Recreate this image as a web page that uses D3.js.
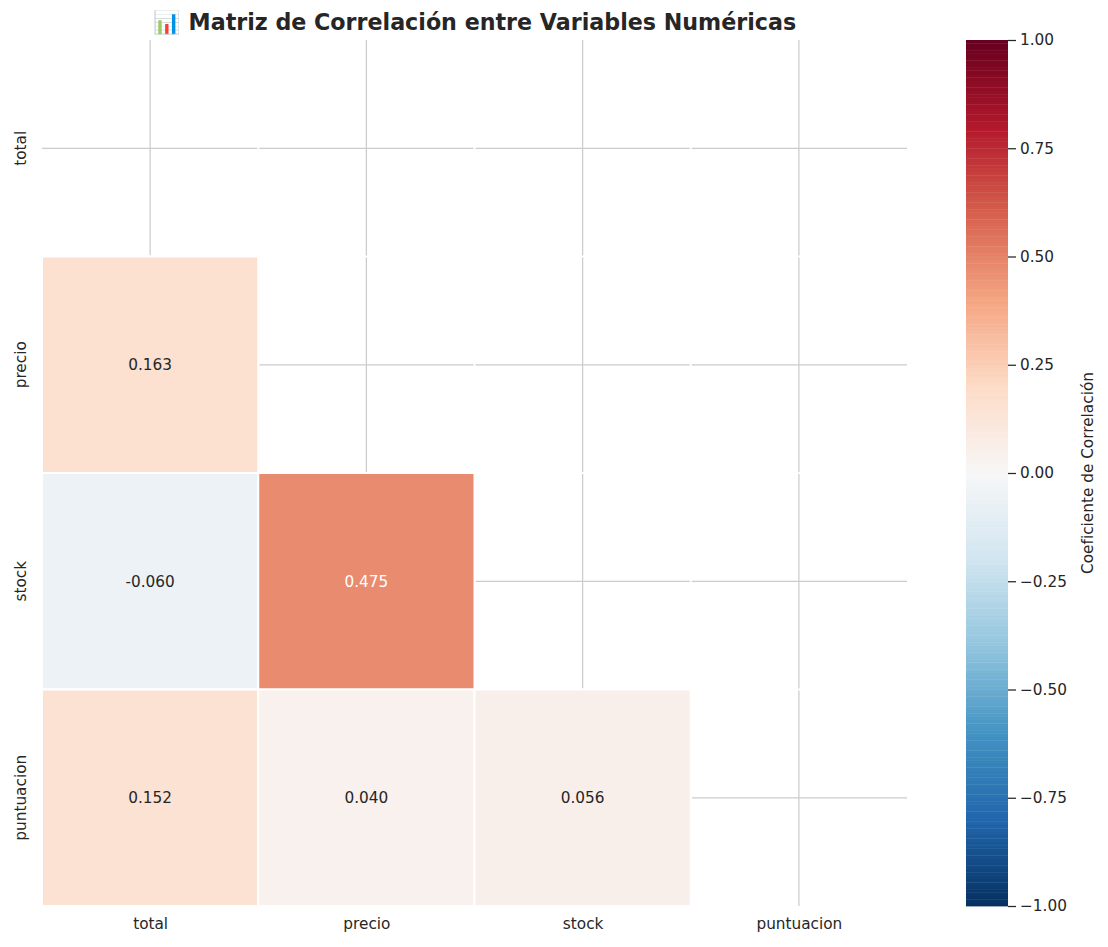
<!DOCTYPE html>
<html lang="es">
<head>
<meta charset="utf-8">
<title>Matriz de Correlación</title>
<script src="https://cdn.jsdelivr.net/npm/d3@7"></script>
<style>
  html, body { margin: 0; padding: 0; background: #fff; }
  svg { display: block; }
  text { font-family: "DejaVu Sans", sans-serif; fill: #262626; }
</style>
</head>
<body>
<div id="chart"></div>
<script>
// Variables of the correlation matrix, top to bottom and left to right
const variables = ["total", "precio", "stock", "puntuacion"];
// Lower triangle only: [row, column, coefficient]
const rowIndex = [1, 2, 2, 3, 3, 3];
const colIndex = [0, 0, 1, 0, 1, 2];
const coefficients = [0.163, -0.060, 0.475, 0.152, 0.040, 0.056];
const colorbarTicks = [-1, -0.75, -0.5, -0.25, 0, 0.25, 0.5, 0.75, 1];
// Diverging ramp anchors, from -1 to +1
const rampColors = ["#053061","#2166ac","#4393c3","#92c5de","#d1e5f0","#f7f7f7",
                    "#fddbc7","#f4a582","#d6604d","#b2182b","#67001f"];
const chartTitle = "📊 Matriz de Correlación entre Variables Numéricas";
const colorbarTitle = "Coeficiente de Correlación";

const width = 1108, height = 947;
const svg = d3.select("#chart").append("svg").attr("width", width).attr("height", height);

const color = d3.scaleLinear()
  .domain(d3.range(rampColors.length).map(i => -1 + 2 * i / (rampColors.length - 1)))
  .range(rampColors)
  .interpolate(d3.interpolateRgb);

const x = d3.scaleBand().domain(d3.range(variables.length)).range([42, 907]);
const y = d3.scaleBand().domain(d3.range(variables.length)).range([40, 906]);

// Grid through the centre of every cell
const grid = svg.append("g").attr("stroke", "#cccccc").attr("stroke-width", 1.25);
variables.forEach((_, i) => {
  grid.append("line").attr("x1", x(i) + x.bandwidth() / 2).attr("x2", x(i) + x.bandwidth() / 2)
    .attr("y1", y.range()[0]).attr("y2", y.range()[1] - (variables.length - 1 - i) * 0);
  grid.append("line").attr("y1", y(i) + y.bandwidth() / 2).attr("y2", y(i) + y.bandwidth() / 2)
    .attr("x1", x.range()[0]).attr("x2", x.range()[1]);
});

// White separators run across the whole matrix and interrupt the grid
const seps = svg.append("g").attr("stroke", "#fff").attr("stroke-width", 2);
variables.forEach((_, i) => {
  if (i === 0) return;
  seps.append("line").attr("x1", x(i)).attr("x2", x(i)).attr("y1", y.range()[0]).attr("y2", y.range()[1]);
  seps.append("line").attr("y1", y(i)).attr("y2", y(i)).attr("x1", x.range()[0]).attr("x2", x.range()[1]);
});

// Cells of the lower triangle
const cells = coefficients.map((v, i) => ({ v, r: rowIndex[i], c: colIndex[i] }));
svg.append("g").selectAll("rect").data(cells).join("rect")
  .attr("x", d => x(d.c)).attr("y", d => y(d.r))
  .attr("width", x.bandwidth()).attr("height", y.bandwidth())
  .attr("fill", d => color(d.v))
  .attr("stroke", "#fff").attr("stroke-width", 2);

svg.append("g").selectAll("text").data(cells).join("text")
  .attr("x", d => x(d.c) + x.bandwidth() / 2)
  .attr("y", d => y(d.r) + y.bandwidth() / 2)
  .attr("dy", "0.36em")
  .attr("text-anchor", "middle")
  .attr("font-size", 15.3)
  .style("fill", d => Math.abs(d.v) > 0.4 ? "#ffffff" : "#262626")
  .text(d => d.v.toFixed(3));

// Category axes
const xAxis = d3.axisBottom(d3.scalePoint().domain(variables).range([x(0) + x.bandwidth()/2, x(3) + x.bandwidth()/2]))
  .tickSize(0).tickPadding(0);
svg.append("g").attr("transform", "translate(0,906)").call(xAxis)
  .call(g => g.select(".domain").remove())
  .selectAll("text").attr("font-size", 15.3).attr("y", 12).attr("dy", "0.71em");

svg.append("g").selectAll("text").data(variables).join("text")
  .attr("transform", (d, i) => `translate(20.5,${y(i) + y.bandwidth() / 2}) rotate(-90)`)
  .attr("dy", "0.36em")
  .attr("text-anchor", "middle").attr("font-size", 15.3)
  .text(d => d);

// Title
svg.append("text").attr("x", 474.5).attr("y", 30)
  .attr("text-anchor", "middle").attr("font-size", 22.2).attr("font-weight", "bold")
  .text(chartTitle);

// Colour bar built from 256 discrete steps
const cb = { x0: 966, x1: 1008, top: 40, bottom: 906 };
const cbScale = d3.scaleLinear().domain([-1, 1]).range([cb.bottom, cb.top]);
const steps = d3.range(256);
const stepH = (cb.bottom - cb.top) / steps.length;
svg.append("g").selectAll("rect").data(steps).join("rect")
  .attr("x", cb.x0).attr("width", cb.x1 - cb.x0)
  .attr("y", s => cb.bottom - (s + 1) * stepH).attr("height", stepH + 0.4)
  .attr("fill", s => color(-1 + 2 * (s + 0.5) / steps.length));

const cbAxis = d3.axisRight(cbScale).tickValues(colorbarTicks)
  .tickFormat(v => d3.format(".2f")(v).replace("-", "−")).tickSize(8).tickPadding(4);
svg.append("g").attr("transform", `translate(${cb.x1},0)`).call(cbAxis)
  .call(g => g.select(".domain").remove())
  .call(g => g.selectAll("line").attr("stroke", "#262626").attr("stroke-width", 1.25))
  .selectAll("text").attr("font-size", 15.3);

svg.append("text")
  .attr("transform", `translate(1087.5,473) rotate(-90)`)
  .attr("dy", "0.36em")
  .attr("text-anchor", "middle").attr("font-size", 15.3)
  .text(colorbarTitle);
</script>
</body>
</html>
